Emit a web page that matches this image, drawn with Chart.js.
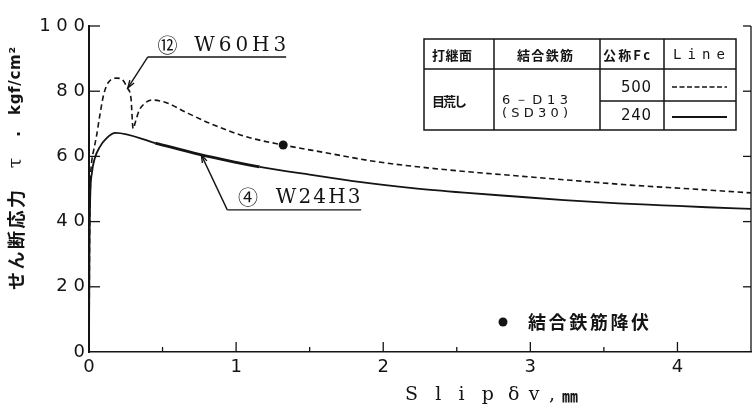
<!DOCTYPE html>
<html>
<head>
<meta charset="utf-8">
<title>せん断応力－スリップ関係</title>
<script src="https://cdn.jsdelivr.net/npm/chart.js@4.4.1/dist/chart.umd.min.js"></script>
<style>
  html, body { margin: 0; padding: 0; background: #fff; }
  canvas { display: block; }
</style>
</head>
<body>
<canvas id="chart" width="756" height="408"></canvas>
<script>
// Slip δv (mm) and shear stress τ (kgf/cm²) for the two specimens
const slipW60H3 = [0, 0.004, 0.01, 0.02, 0.03, 0.05, 0.075, 0.1, 0.13, 0.19, 0.23, 0.26, 0.285, 0.30, 0.315, 0.34, 0.38, 0.43, 0.53, 0.66, 0.84, 1.07, 1.32, 1.6, 1.95, 2.32, 2.65, 3.0, 3.35, 3.68, 4.1, 4.5];
const tauW60H3  = [0, 35, 52, 59, 61.5, 66, 73, 79, 82.6, 84, 83.4, 81, 78, 68.5, 70.5, 74, 76.3, 77.3, 76.4, 73.5, 69.8, 66, 63.5, 61.2, 58.4, 56.4, 55, 53.7, 52.4, 51.2, 50, 48.8];
const slipW24H3 = [0, 0.003, 0.008, 0.02, 0.04, 0.075, 0.12, 0.18, 0.45, 0.75, 1.0, 1.16, 1.5, 1.85, 2.2, 2.55, 2.9, 3.23, 3.6, 3.9, 4.2, 4.5];
const tauW24H3  = [0, 30, 47, 55, 59.5, 63, 65.6, 67.2, 64.1, 60.6, 58.2, 56.8, 54.4, 52.1, 50.3, 48.9, 47.7, 46.6, 45.6, 45.0, 44.4, 43.9];

// Yield of the connecting bars, marked on W60H3
const yieldSlip = [1.32];
const yieldTau  = [63.5];

// Axis ticks
const xTickValues = [0, 0.5, 1, 1.5, 2, 2.5, 3, 3.5, 4, 4.5];
const yTickValues = [0, 20, 40, 60, 80, 100];

// Legend table and notes
const tableHead = ['打継面', '結合鉄筋', '公称Fc', 'Line'];
const jointSurface = '目荒し';
const connectingBars = ['6－D13', '(SD30)'];
const nominalFc = ['500', '240'];
const yieldLabel = '結合鉄筋降伏';
const specimenNames = ['W60H3', 'W24H3'];
const specimenMarks = ['⑫', '④'];

const INK = '#141414';
const CJK = '"Noto Sans CJK JP", "Noto Sans CJK SC", sans-serif';

function pts(xs, ys) { return xs.map((x, i) => ({ x, y: ys[i] })); }

// Draw text so that it spans exactly from x0 to x1 (even letter spacing)
function fitText(ctx, text, x0, x1, y) {
  const chars = Array.from(text);
  const widths = chars.map(c => ctx.measureText(c).width);
  const total = widths.reduce((a, b) => a + b, 0);
  const gap = chars.length > 1 ? (x1 - x0 - total) / (chars.length - 1) : 0;
  let x = chars.length > 1 ? x0 : (x0 + x1 - total) / 2;
  ctx.textAlign = 'left';
  chars.forEach((c, i) => { ctx.fillText(c, x, y); x += widths[i] + gap; });
}

function seg(ctx, x0, y0, x1, y1) {
  ctx.beginPath(); ctx.moveTo(x0, y0); ctx.lineTo(x1, y1); ctx.stroke();
}

function arrowTo(ctx, x0, y0, x1, y1) {
  seg(ctx, x0, y0, x1, y1);
  const a = Math.atan2(y0 - y1, x0 - x1);
  const L = 8, s = 0.32;
  seg(ctx, x1, y1, x1 + L * Math.cos(a + s), y1 + L * Math.sin(a + s));
  seg(ctx, x1, y1, x1 + L * Math.cos(a - s), y1 + L * Math.sin(a - s));
}

// Inward tick marks and right frame line
const frameTicks = {
  id: 'frameTicks',
  afterDraw(chart) {
    const { ctx, chartArea: a, scales: { x, y } } = chart;
    ctx.save();
    ctx.strokeStyle = INK;
    ctx.lineWidth = 1.3;
    x.ticks.forEach(t => {
      if (t.value <= 0 || t.value >= 4.5) return;
      const px = x.getPixelForValue(t.value);
      const len = Number.isInteger(t.value) ? 10 : 5;
      seg(ctx, px, a.bottom, px, a.bottom - len);
    });
    y.ticks.forEach(t => {
      if (t.value <= 0) return;
      const py = y.getPixelForValue(t.value);
      seg(ctx, a.left, py, a.left + 11, py);
      seg(ctx, a.right, py, a.right - 8, py);
    });
    seg(ctx, a.right, a.top, a.right, a.bottom);
    ctx.restore();
  }
};

// Axis titles, specimen notes, legend table and yield legend
const notes = {
  id: 'notes',
  afterDraw(chart) {
    const { ctx, scales: { x, y } } = chart;
    const P = (sx, ty) => [x.getPixelForValue(sx), y.getPixelForValue(ty)];
    ctx.save();
    ctx.fillStyle = INK;
    ctx.strokeStyle = INK;
    ctx.textBaseline = 'middle';

    // x-axis title
    ctx.font = '19px "DejaVu Serif"';
    fitText(ctx, 'Slip', 405, 494, 395);
    fitText(ctx, 'δv,', 508, 555, 395);
    ctx.font = 'bold 16px ' + CJK;
    ctx.textAlign = 'center';
    ctx.fillText('㎜', 570, 396);

    // y-axis title (rotated, read bottom to top)
    ctx.save();
    ctx.translate(16, 0);
    ctx.rotate(-Math.PI / 2);
    ctx.font = 'bold 18px ' + CJK;
    fitText(ctx, 'せん断応力', -290, -190, 0);
    ctx.font = '19px "DejaVu Serif"';
    ctx.textAlign = 'center';
    ctx.fillText('τ', -163, 0);
    ctx.font = 'bold 16px "DejaVu Sans"';
    ctx.fillText('.', -134, 0);
    ctx.font = 'bold 15px "DejaVu Sans"';
    fitText(ctx, 'kgf/cm²', -115, -47, 0);
    ctx.restore();

    // Specimen notes with leader arrows
    ctx.lineWidth = 1.4;
    {
      const [u0, uy] = P(0.40, 90.5), [u1] = P(1.34, 90.5);
      seg(ctx, u0, uy, u1, uy);
      const [tx, ty] = P(0.264, 81.0);
      arrowTo(ctx, u0, uy, tx, ty);
      ctx.font = '20px ' + CJK;
      ctx.textAlign = 'center';
      const [mx, my] = P(0.534, 93.9);
      ctx.fillText(specimenMarks[0], mx, my);
      ctx.font = '20px "DejaVu Serif"';
      fitText(ctx, specimenNames[0], P(0.716, 0)[0], P(1.34, 0)[0], my);
    }
    {
      const [u0, uy] = P(0.94, 43.6), [u1] = P(1.85, 43.6);
      seg(ctx, u0, uy, u1, uy);
      const [tx, ty] = P(0.764, 60.4);
      arrowTo(ctx, u0, uy, tx, ty);
      ctx.font = '20px ' + CJK;
      ctx.textAlign = 'center';
      const [mx, my] = P(1.08, 47.5);
      ctx.fillText(specimenMarks[1], mx, my);
      ctx.font = '20px "DejaVu Serif"';
      fitText(ctx, specimenNames[1], P(1.27, 0)[0], P(1.845, 0)[0], my + 1);
    }

    // Legend table
    const cx = [424, 494, 600, 664, 736];
    const ry = [39, 69, 101, 130];
    ctx.lineWidth = 1.5;
    ctx.strokeRect(cx[0], ry[0], cx[4] - cx[0], ry[3] - ry[0]);
    seg(ctx, cx[0], ry[1], cx[4], ry[1]);
    seg(ctx, cx[2], ry[2], cx[4], ry[2]);
    for (let i = 1; i < 4; i++) seg(ctx, cx[i], ry[0], cx[i], ry[3]);

    ctx.font = 'bold 13px ' + CJK;
    fitText(ctx, tableHead[0], 432, 472, 55);
    fitText(ctx, tableHead[1], 517, 573, 55);
    fitText(ctx, tableHead[2], 603, 650, 55);
    ctx.font = '14px "DejaVu Sans Mono"';
    fitText(ctx, tableHead[3], 673, 725, 55);

    ctx.font = 'bold 13px ' + CJK;
    fitText(ctx, jointSurface, 432, 467, 101);
    ctx.font = '13px "DejaVu Sans"';
    fitText(ctx, connectingBars[0], 502, 568, 101);
    fitText(ctx, connectingBars[1], 502, 568, 114);
    ctx.font = '15px "DejaVu Sans"';
    fitText(ctx, nominalFc[0], 621, 651, 88);
    fitText(ctx, nominalFc[1], 621, 651, 116);

    ctx.lineWidth = 1.4;
    ctx.setLineDash([5, 2.5]);
    seg(ctx, 672, 87, 727, 87);
    ctx.setLineDash([]);
    ctx.lineWidth = 1.8;
    seg(ctx, 672, 117, 727, 117);

    // Yield legend
    ctx.beginPath();
    ctx.arc(503, 322, 4.5, 0, Math.PI * 2);
    ctx.fill();
    ctx.font = 'bold 18px ' + CJK;
    fitText(ctx, yieldLabel, 528, 649, 322);

    ctx.restore();
  }
};

new Chart(document.getElementById('chart'), {
  type: 'scatter',
  data: {
    datasets: [
      {
        label: specimenNames[0],
        data: pts(slipW60H3, tauW60H3),
        showLine: true,
        borderColor: INK,
        borderWidth: 1.6,
        borderDash: [5.5, 3.5],
        pointRadius: 0,
        cubicInterpolationMode: 'monotone',
        fill: false
      },
      {
        label: specimenNames[1],
        data: pts(slipW24H3, tauW24H3),
        showLine: true,
        borderColor: INK,
        borderWidth: 1.8,
        segment: {
          borderWidth: c => (c.p0.parsed.x >= 0.4 && c.p1.parsed.x <= 1.2) ? 2.8 : 1.8
        },
        pointRadius: 0,
        cubicInterpolationMode: 'monotone',
        fill: false
      },
      {
        label: yieldLabel,
        data: pts(yieldSlip, yieldTau),
        showLine: false,
        pointRadius: 4.5,
        pointBackgroundColor: INK,
        pointBorderWidth: 0
      }
    ]
  },
  options: {
    responsive: false,
    animation: false,
    devicePixelRatio: 1,
    layout: { padding: { left: 0, right: 1, top: 26, bottom: 0 } },
    plugins: { legend: { display: false }, tooltip: { enabled: false } },
    scales: {
      x: {
        type: 'linear',
        min: 0,
        max: 4.5,
        afterBuildTicks: s => { s.ticks = xTickValues.map(v => ({ value: v })); },
        afterFit: s => { s.height = 56; },
        ticks: {
          autoSkip: false,
          maxRotation: 0,
          padding: 5,
          color: INK,
          font: { family: '"DejaVu Sans"', size: 18 },
          callback: v => (Number.isInteger(v) && v <= 4) ? String(v) : ''
        },
        grid: { display: false, drawTicks: false },
        border: { display: true, color: INK, width: 1.5 }
      },
      y: {
        type: 'linear',
        min: 0,
        max: 100,
        afterBuildTicks: s => { s.ticks = yTickValues.map(v => ({ value: v })); },
        afterFit: s => { s.width = 89; },
        ticks: {
          padding: 4,
          color: INK,
          font: { family: '"DejaVu Sans"', size: 18 },
          callback: v => String(v).split('').join(' ')
        },
        grid: { display: false, drawTicks: false },
        border: { display: true, color: INK, width: 2 }
      }
    }
  },
  plugins: [frameTicks, notes]
});
</script>
</body>
</html>
